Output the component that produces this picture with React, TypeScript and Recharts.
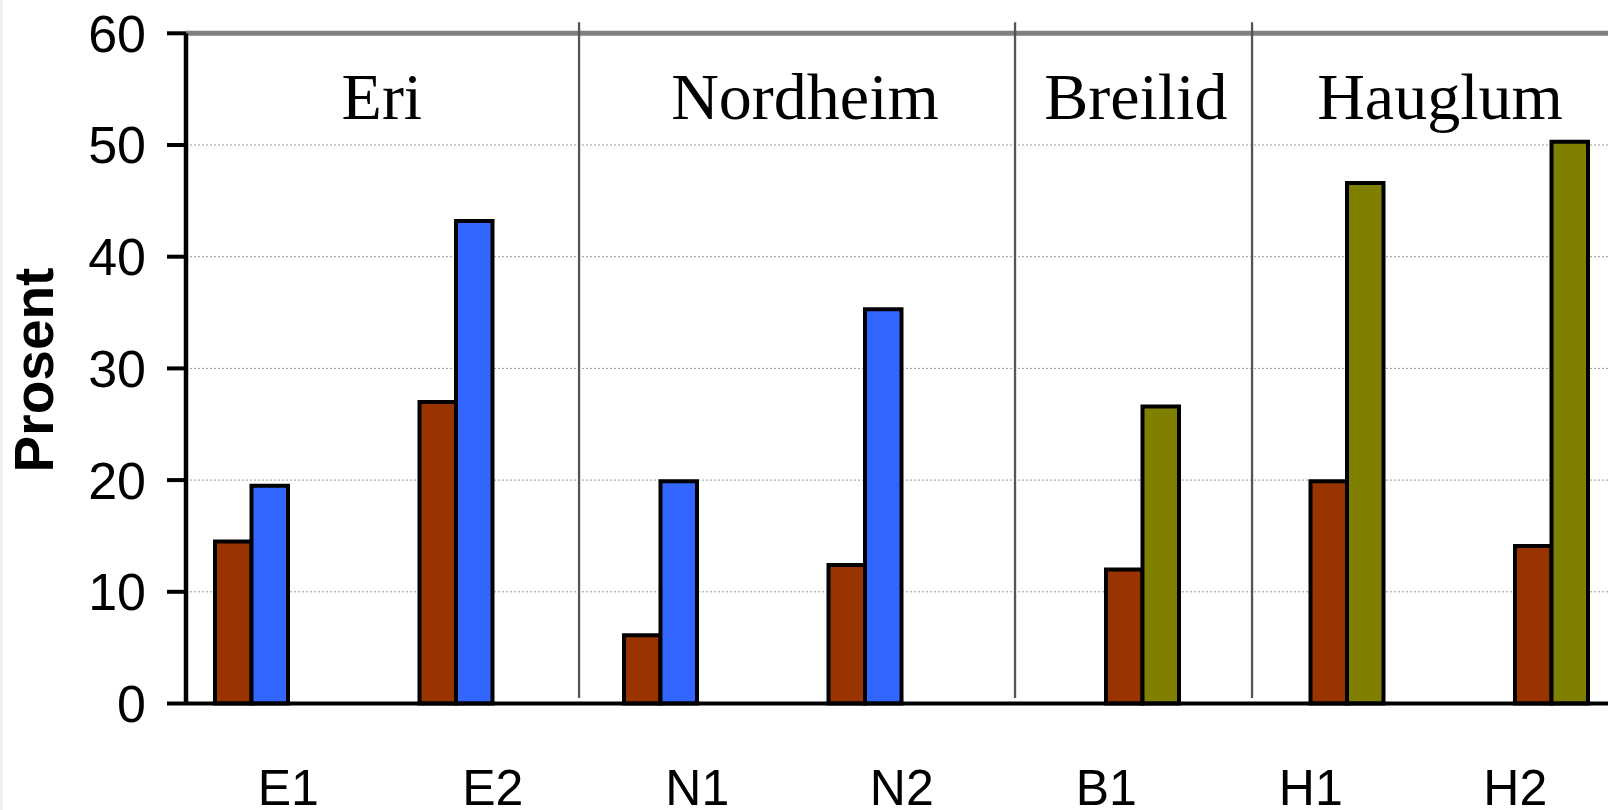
import React from 'react';
import {
  ComposedChart,
  Bar,
  XAxis,
  YAxis,
  CartesianGrid,
  ReferenceLine,
  ReferenceDot,
} from 'recharts';

const categories = ['E1', 'E2', 'N1', 'N2', 'B1', 'H1', 'H2'];
const brownEN = [14.5, 27.0, 6.1, 12.4, null, null, null];
const blueEN = [19.5, 43.2, 19.9, 35.3, null, null, null];
const brownBH = [null, null, null, null, 12.0, 19.9, 14.1];
const greenBH = [null, null, null, null, 26.6, 46.6, 50.3];
const yTicks = [0, 10, 20, 30, 40, 50, 60];
const groupNames = ['Eri', 'Nordheim', 'Breilid', 'Hauglum'];
const groupCenters = [0.958, 3.027, 4.645, 6.132];
const separators = [1.922, 4.054, 5.213];

const data = categories.map((c, i) => ({
  x: i + 0.5,
  cat: c,
  a: brownEN[i],
  b: blueEN[i],
  c2: brownBH[i],
  d: greenBH[i],
}));
const xTicks = data.map((r) => r.x);

const SANS = '"Liberation Sans", Arial, sans-serif';
const SERIF = '"Liberation Serif", "Times New Roman", serif';

export default function App() {
  return (
    <div
      style={{
        position: 'absolute',
        left: 0,
        top: 0,
        width: 1608,
        height: 810,
        overflow: 'hidden',
        background: '#fff',
      }}
    >
      <div style={{ position: 'absolute', left: 0, top: 0, width: 3, height: 810, background: '#f0f0f0' }} />
      <ComposedChart
        width={1628}
        height={810}
        data={data}
        margin={{ top: 33.3, right: 10.5, left: 0, bottom: 0 }}
        barGap={0}
        barSize={36.5}
      >
        <CartesianGrid vertical={false} stroke="#999" strokeDasharray="2 2" strokeWidth={1} />
        <XAxis
          dataKey="x"
          type="number"
          domain={[0, 7]}
          allowDataOverflow
          ticks={xTicks}
          tickFormatter={(v: number) => categories[Math.round(v - 0.5)] ?? ''}
          height={106.5}
          tickLine={false}
          axisLine={{ stroke: '#000', strokeWidth: 4 }}
          tickMargin={60}
          interval={0}
          tick={{ fontSize: 50, fill: '#000', fontFamily: SANS }}
        />
        <YAxis
          domain={[0, 60]}
          ticks={yTicks}
          width={186}
          tickSize={19}
          tickMargin={21}
          axisLine={{ stroke: '#000', strokeWidth: 4.5 }}
          tickLine={{ stroke: '#000', strokeWidth: 4 }}
          tick={{ fontSize: 52, fill: '#000', fontFamily: SANS }}
          label={{
            content: () => (
              <text
                transform="translate(53,370) rotate(-90)"
                textAnchor="middle"
                fontSize={55}
                fontWeight="bold"
                fontFamily={SANS}
                fill="#000"
              >
                Prosent
              </text>
            ),
          }}
        />
        <ReferenceLine y={60} stroke="#808080" strokeWidth={5} />
        {separators.map((s) => (
          <ReferenceLine
            key={s}
            segment={[
              { x: s, y: 61 },
              { x: s, y: 0.5 },
            ]}
            stroke="#555"
            strokeWidth={2.3}
            ifOverflow="visible"
          />
        ))}
        {groupNames.map((g, i) => (
          <ReferenceDot
            key={g}
            x={groupCenters[i]}
            y={52.3}
            r={1}
            fill="none"
            stroke="none"
            ifOverflow="visible"
            label={{
              content: (p: any) => {
                const vb = p.viewBox || {};
                const cx = (vb.x || 0) + (vb.width || 0) / 2;
                const cy = (vb.y || 0) + (vb.height || 0) / 2;
                return (
                  <text x={cx} y={cy} textAnchor="middle" fontSize={66} fontFamily={SERIF} fill="#000">
                    {g}
                  </text>
                );
              },
            }}
          />
        ))}
        <Bar dataKey="a" fill="#993300" stroke="#000" strokeWidth={4} isAnimationActive={false} />
        <Bar dataKey="b" fill="#3366FF" stroke="#000" strokeWidth={4} isAnimationActive={false} />
        <Bar dataKey="c2" fill="#993300" stroke="#000" strokeWidth={4} isAnimationActive={false} />
        <Bar dataKey="d" fill="#808000" stroke="#000" strokeWidth={4} isAnimationActive={false} />
      </ComposedChart>
    </div>
  );
}
